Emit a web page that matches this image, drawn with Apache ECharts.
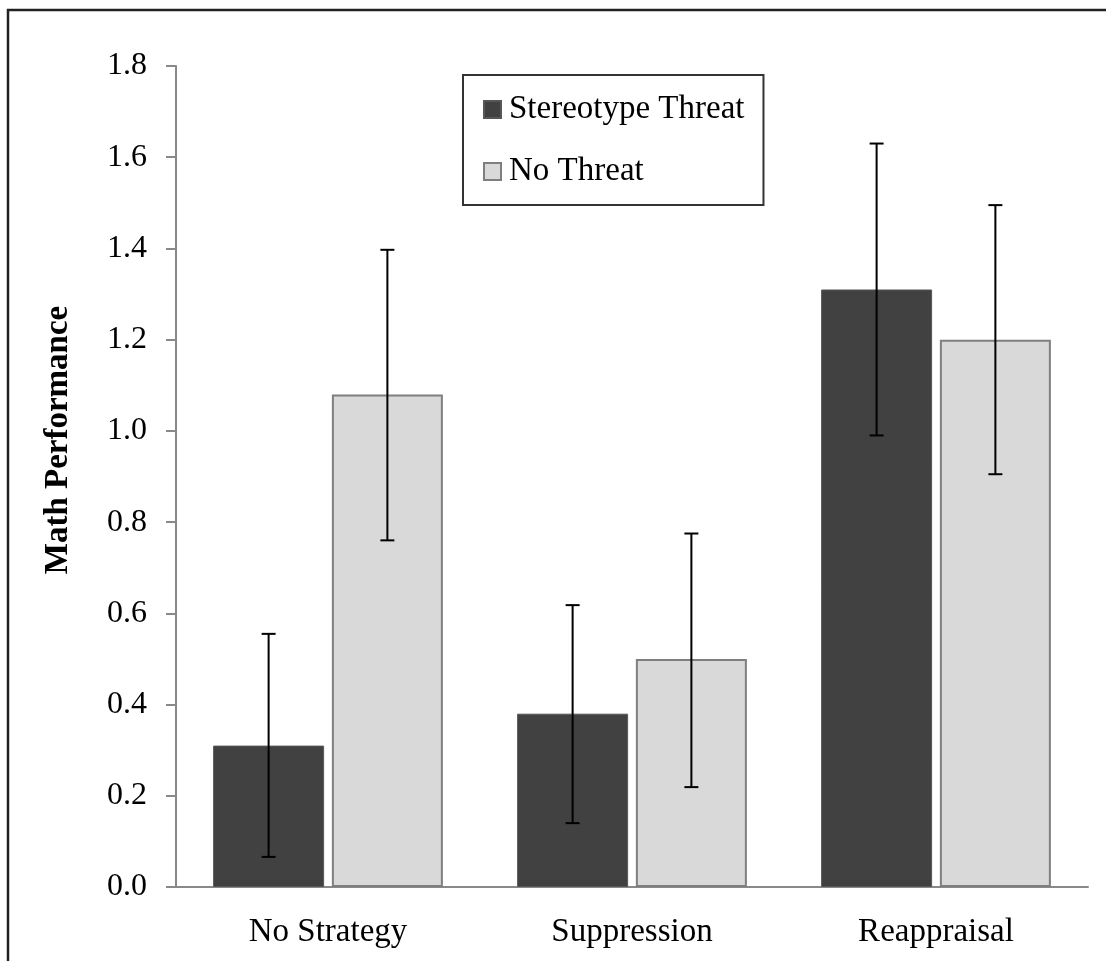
<!DOCTYPE html>
<html>
<head>
<meta charset="utf-8">
<title>Math Performance</title>
<script src="https://cdn.jsdelivr.net/npm/echarts@6/dist/echarts.min.js"></script>
<style>
  html, body { margin: 0; padding: 0; background: #fff; }
  #chart { width: 1106px; height: 961px; }
</style>
</head>
<body>
<div id="chart"></div>
<script>
var categories = ['No Strategy', 'Suppression', 'Reappraisal'];
var seriesNames = ['Stereotype Threat', 'No Threat'];
var threatMeans = [0.31, 0.38, 1.31];
var noThreatMeans = [1.08, 0.50, 1.20];
// error bar ends
var threatLow = [0.066, 0.14, 0.99];
var threatHigh = [0.555, 0.618, 1.63];
var noThreatLow = [0.76, 0.219, 0.905];
var noThreatHigh = [1.397, 0.775, 1.495];
var yMin = 0;
var yMax = 1.8;
var yStep = 0.2;

var FONT = "'Liberation Serif', 'Times New Roman', serif";
var AXIS_GRAY = '#898989';
var BAR_W = 111;
var BAR_GAP = 0.07;

function errData(low, high) {
    return low.map(function (lo, i) { return [i, lo, high[i]]; });
}

function errorBars(sign) {
    return function (params, api) {
        var i = api.value(0);
        var lo = api.coord([i, api.value(1)]);
        var hi = api.coord([i, api.value(2)]);
        var x = lo[0] + sign * BAR_W * (1 + BAR_GAP) / 2;
        var cap = 7;
        var style = { stroke: '#000', lineWidth: 2 };
        return {
            type: 'group',
            children: [
                { type: 'line', shape: { x1: x, y1: hi[1], x2: x, y2: lo[1] }, style: style },
                { type: 'line', shape: { x1: x - cap, y1: hi[1], x2: x + cap, y2: hi[1] }, style: style },
                { type: 'line', shape: { x1: x - cap, y1: lo[1], x2: x + cap, y2: lo[1] }, style: style }
            ]
        };
    };
}

var option = {
    backgroundColor: '#fff',
    animation: false,
    grid: {
        left: 176,
        right: 18,
        top: 66,
        bottom: 74,
        outerBoundsMode: 'none'
    },
    legend: {
        data: seriesNames,
        orient: 'vertical',
        left: 463,
        top: 75,
        padding: [18, 19, 17, 20],
        itemGap: 29,
        itemWidth: 17,
        itemHeight: 17,
        icon: 'rect',
        borderColor: '#333',
        borderWidth: 2,
        backgroundColor: '#fff',
        textStyle: {
            fontFamily: FONT,
            fontSize: 33,
            color: '#000',
            padding: [0, 0, 0, 3]
        }
    },
    xAxis: {
        type: 'category',
        data: categories,
        axisLine: { lineStyle: { color: AXIS_GRAY, width: 2 } },
        axisTick: { length: 10, lineStyle: { color: AXIS_GRAY, width: 2 } },
        axisLabel: {
            margin: 29,
            fontFamily: FONT,
            fontSize: 33,
            color: '#000'
        }
    },
    yAxis: {
        type: 'value',
        min: yMin,
        max: yMax,
        interval: yStep,
        axisLine: { show: true, lineStyle: { color: AXIS_GRAY, width: 2 } },
        axisTick: { show: true, length: 10, lineStyle: { color: AXIS_GRAY, width: 2 } },
        splitLine: { show: false },
        axisLabel: {
            margin: 29,
            fontFamily: FONT,
            fontSize: 32,
            color: '#000',
            padding: [4, 0, 0, 0],
            formatter: function (v) { return v.toFixed(1); }
        }
    },
    graphic: [
        {
            type: 'rect',
            shape: { x: 8, y: 10, width: 1200, height: 1000 },
            style: { fill: 'none', stroke: '#222', lineWidth: 2.5 },
            silent: true
        },
        {
            type: 'text',
            x: 58,
            y: 440,
            rotation: Math.PI / 2,
            style: {
                text: 'Math Performance',
                fontFamily: FONT,
                fontSize: 33,
                fontWeight: 'bold',
                fill: '#000',
                align: 'center',
                verticalAlign: 'middle'
            }
        }
    ],
    series: [
        {
            name: seriesNames[0],
            type: 'bar',
            data: threatMeans,
            barWidth: BAR_W,
            barGap: (BAR_GAP * 100) + '%',
            itemStyle: { color: '#414141', borderColor: '#575757', borderWidth: 1 }
        },
        {
            name: seriesNames[1],
            type: 'bar',
            data: noThreatMeans,
            barWidth: BAR_W,
            barGap: (BAR_GAP * 100) + '%',
            itemStyle: { color: '#d9d9d9', borderColor: '#7f7f7f', borderWidth: 2 }
        },
        {
            type: 'custom',
            renderItem: errorBars(-1),
            data: errData(threatLow, threatHigh),
            encode: { x: 0, y: [1, 2] },
            z: 10,
            silent: true
        },
        {
            type: 'custom',
            renderItem: errorBars(1),
            data: errData(noThreatLow, noThreatHigh),
            encode: { x: 0, y: [1, 2] },
            z: 10,
            silent: true
        }
    ]
};

var myChart = echarts.init(document.getElementById('chart'));
myChart.setOption(option);
</script>
</body>
</html>
